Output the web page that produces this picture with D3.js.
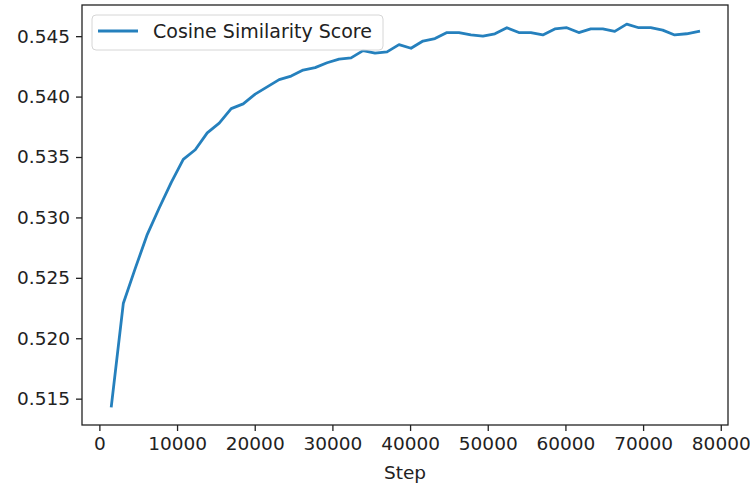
<!DOCTYPE html>
<html>
<head>
<meta charset="utf-8">
<script src="https://cdn.jsdelivr.net/npm/d3@7"></script>
<style>
  html, body { margin: 0; padding: 0; background: #fff; }
  svg { display: block; }
  text { font-family: "DejaVu Sans", sans-serif; fill: #222; }
</style>
</head>
<body>
<div id="chart"></div>
<script>
// training steps
const steps = [1543, 3086, 4629, 6172, 7715, 9258, 10801, 12344, 13887, 15430,
  16973, 18516, 20059, 21602, 23145, 24688, 26231, 27774, 29317, 30860,
  32403, 33946, 35489, 37032, 38575, 40118, 41661, 43204, 44747, 46290,
  47833, 49376, 50919, 52462, 54005, 55548, 57091, 58634, 60177, 61720,
  63263, 64806, 66349, 67892, 69435, 70978, 72521, 74064, 75607, 77150];

// cosine similarity score at each step
const scores = [0.5144, 0.5229, 0.5258, 0.5286, 0.5308, 0.5329, 0.5348, 0.5356, 0.5370, 0.5378,
  0.5390, 0.5394, 0.5402, 0.5408, 0.5414, 0.5417, 0.5422, 0.5424, 0.5428, 0.5431,
  0.5432, 0.5438, 0.5436, 0.5437, 0.5443, 0.5440, 0.5446, 0.5448, 0.5453, 0.5453,
  0.5451, 0.5450, 0.5452, 0.5457, 0.5453, 0.5453, 0.5451, 0.5456, 0.5457, 0.5453,
  0.5456, 0.5456, 0.5454, 0.5460, 0.5457, 0.5457, 0.5455, 0.5451, 0.5452, 0.5454];

const xTicks = [0, 10000, 20000, 30000, 40000, 50000, 60000, 70000, 80000];
const yTicks = [0.515, 0.520, 0.525, 0.530, 0.535, 0.540, 0.545];

const width = 750, height = 488;
const margin = {top: 5, right: 22, bottom: 63, left: 82};
const fontSize = '18.5px';

const svg = d3.select('#chart').append('svg')
    .attr('width', width)
    .attr('height', height);

// matplotlib style 5% margins around the data
let xExt = d3.extent(steps), yExt = d3.extent(scores);
let xPad = (xExt[1] - xExt[0]) * 0.05, yPad = (yExt[1] - yExt[0]) * 0.05;

let x = d3.scaleLinear()
    .domain([xExt[0] - xPad, xExt[1] + xPad])
    .range([margin.left, width - margin.right]);
let y = d3.scaleLinear()
    .domain([yExt[0] - yPad, yExt[1] + yPad])
    .range([height - margin.bottom, margin.top]);

let xAxis = svg.append('g')
    .attr('transform', `translate(0,${height - margin.bottom})`)
    .call(d3.axisBottom(x).tickValues(xTicks).tickFormat(d3.format('d'))
        .tickSize(6).tickPadding(6));
let yAxis = svg.append('g')
    .attr('transform', `translate(${margin.left},0)`)
    .call(d3.axisLeft(y).tickValues(yTicks).tickFormat(d3.format('.3f'))
        .tickSize(6).tickPadding(6));

[xAxis, yAxis].forEach(g => {
    g.select('.domain').remove();
    g.selectAll('.tick line').attr('stroke', '#222').attr('stroke-width', 1.3);
    g.selectAll('.tick text').style('font-size', fontSize).attr('fill', '#222');
});

// frame
svg.append('rect')
    .attr('x', margin.left)
    .attr('y', margin.top)
    .attr('width', width - margin.left - margin.right)
    .attr('height', height - margin.top - margin.bottom)
    .attr('fill', 'none')
    .attr('stroke', '#222')
    .attr('stroke-width', 1.3);

let line = d3.line()
    .x((d, i) => x(steps[i]))
    .y(d => y(d));

svg.append('path')
    .datum(scores)
    .attr('fill', 'none')
    .attr('stroke', '#2580bd')
    .attr('stroke-width', 2.8)
    .attr('stroke-linejoin', 'round')
    .attr('stroke-linecap', 'square')
    .attr('d', line);

svg.append('text')
    .attr('x', (margin.left + width - margin.right) / 2)
    .attr('y', 479)
    .attr('text-anchor', 'middle')
    .style('font-size', fontSize)
    .text('Step');

// legend
let legend = svg.append('g');
legend.append('rect')
    .attr('x', 92).attr('y', 15)
    .attr('width', 291).attr('height', 35)
    .attr('rx', 4)
    .attr('fill', 'rgba(255,255,255,0.8)')
    .attr('stroke', '#d6d6d6');
legend.append('line')
    .attr('x1', 98).attr('x2', 138)
    .attr('y1', 31).attr('y2', 31)
    .attr('stroke', '#2580bd')
    .attr('stroke-width', 2.8);
legend.append('text')
    .attr('x', 153).attr('y', 31)
    .attr('dy', '0.35em')
    .style('font-size', '19px')
    .text('Cosine Similarity Score');
</script>
</body>
</html>
